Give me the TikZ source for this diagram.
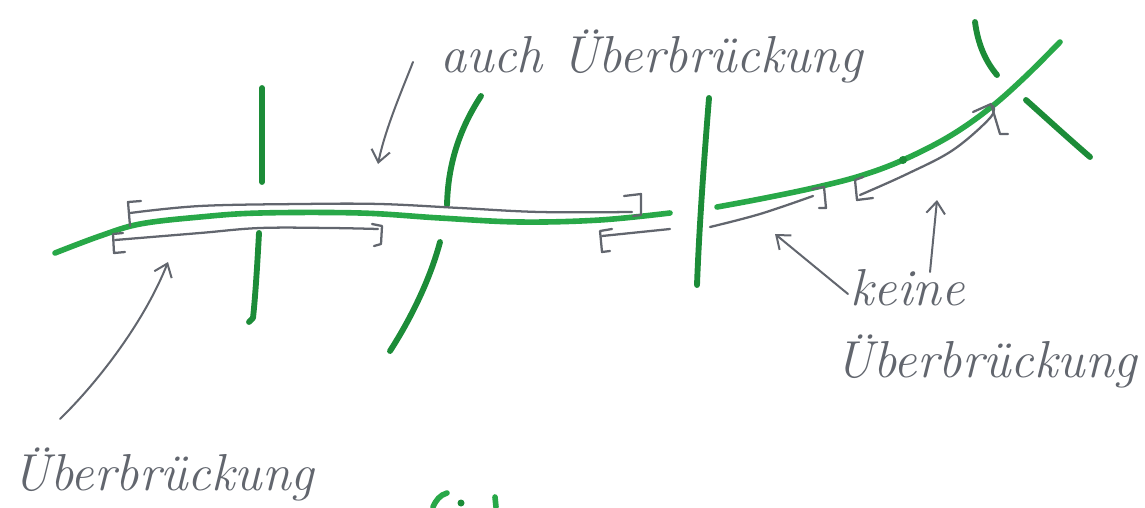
\documentclass[tikz,border=0pt]{standalone}
\usepackage{fontspec}
\usetikzlibrary{arrows.meta}
\definecolor{pen}{RGB}{40,168,72}
\definecolor{pendark}{RGB}{28,140,56}
\definecolor{pencil}{RGB}{98,102,110}
\tikzset{
  greenline/.style={draw=pen, line width=4.2pt, line cap=round, line join=round},
  crossline/.style={draw=pendark, line width=4.4pt, line cap=round, line join=round},
  barline/.style={draw=pencil, line width=1.7pt, line cap=round, line join=round},
  pointer/.style={draw=pencil, line width=1.5pt, line cap=round, -{Straight Barb[length=9pt,width=14pt,line width=1.5pt]}},
  hand/.style={text=pencil, font=\itshape\fontsize{39}{46}\selectfont, inner sep=0pt, anchor=base west}
}
\begin{document}
\begin{tikzpicture}[x=0.75pt,y=-0.75pt]
\useasboundingbox (0,0) rectangle (1145,507);
% main green line
\draw[greenline] plot[smooth, tension=0.6] coordinates {(55,253) (100,236) (140,224) (200,217) (260,213) (360,213) (440,218) (520,222) (600,220) (670,213)};
\draw[greenline] plot[smooth, tension=0.6] coordinates {(717,207) (760,199) (813,188) (860,176) (903,160) (950,136) (990,108) (1025,77) (1060,42)};
\fill[pendark] (903,160) circle (4);
% crossing green strokes
\draw[crossline] (262,88) -- (262,182);
\draw[crossline] (259,233) .. controls (257,270) and (255,300) .. (253,318) -- (249,322);
\draw[crossline] (481,96) .. controls (462,125) and (448,160) .. (447,205);
\draw[crossline] (440,242) .. controls (430,280) and (410,320) .. (390,351);
\draw[crossline] (709,98) .. controls (704,160) and (699,230) .. (697,285);
\draw[crossline] (975,22) .. controls (978,45) and (986,62) .. (997,75);
\draw[crossline] (1026,100) .. controls (1045,117) and (1068,138) .. (1090,157);
% tiny green at bottom
\draw[greenline] (433,507) .. controls (436,500) and (440,495) .. (447,493);
\fill[pendark] (461,503) circle (3.5);
\draw[greenline] (495,497) -- (496,507);
% bar A (upper long)
\draw[barline] (141,201) -- (128,202) -- (130,226);
\draw[barline] plot[smooth, tension=0.6] coordinates {(130,213) (200,206) (300,204) (380,204) (460,208) (540,212) (632,212)};
\draw[barline] (624,196) -- (641,194) -- (641,215) -- (633,216);
% bar B (lower left)
\draw[barline] (123,233) -- (113,234) -- (114,253) -- (125,252);
\draw[barline] plot[smooth, tension=0.6] coordinates {(115,240) (200,233) (260,228) (330,228) (378,229)};
\draw[barline] (372,224) -- (382,226) -- (381,244) -- (374,246);
% bar C
\draw[barline] (612,229) -- (600,231) -- (602,252) -- (610,251);
\draw[barline] (602,236) -- (670,229);
% bar D
\draw[barline] plot[smooth, tension=0.6] coordinates {(710,227) (760,214) (813,196)};
\draw[barline] (812,189) -- (824,187) -- (826,208) -- (819,208);
% bar E
\draw[barline] (863,177) -- (855,180) -- (857,200) -- (873,198);
\draw[barline] plot[smooth, tension=0.6] coordinates {(860,195) (907,174) (953,150) (990,118) (993,106)};
\draw[barline] (973,112) -- (991,104) -- (1000,134) -- (1008,134);
% texts
\node[hand] (auch) at (440,72) {auch Überbrückung};
\node[hand] (keine) at (850,305) {keine};
\node[hand] (ueba) at (835,377) {Überbrückung};
\node[hand] (uebb) at (12,490) {Überbrückung};
% pointer coordinates
\coordinate (auchS) at (413,62);
\coordinate (auchE) at (378,164);
\coordinate (leftS) at (60,419);
\coordinate (leftE) at (168,262);
\coordinate (keineSa) at (848,294);
\coordinate (keineEa) at (775,234);
\coordinate (keineSb) at (930,272);
\coordinate (keineEb) at (937,200);
% pointers
\draw[pointer] (auchS) .. controls (400,95) and (385,130) .. (auchE);
\draw[pointer] (leftS) .. controls (100,380) and (145,320) .. (leftE);
\draw[pointer] (keineSa) -- (keineEa);
\draw[pointer] (keineSb) -- (keineEb);
\end{tikzpicture}
\end{document}
